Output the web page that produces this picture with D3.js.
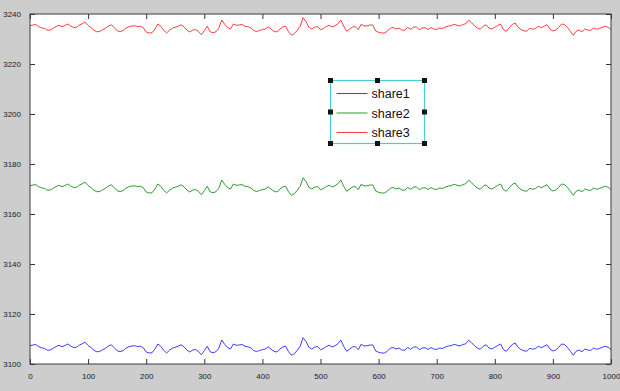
<!DOCTYPE html>
<html>
<head>
<meta charset="utf-8">
<script src="https://cdn.jsdelivr.net/npm/d3@7"></script>
<style>
  body { margin: 0; background: #cdcdcd; }
  svg { display: block; }
  .tick text { font-family: "Liberation Sans", Arial, sans-serif; font-size: 8px; fill: #222; }
</style>
</head>
<body>
<div id="chart"></div>
<script>
const seriesNames = ["share1", "share2", "share3"]
const seriesColors = ["#3c3cff", "#2f9a2f", "#ff3c3c"]
const xTicks = [0, 100, 200, 300, 400, 500, 600, 700, 800, 900, 1000]
const yTicks = [3100, 3120, 3140, 3160, 3180, 3200, 3220, 3240]
// one reading every 5 steps, 0..1000
const sampleStep = 5

const share3 = [
  3235.3,3235.6,3235.8,3234.9,3234.5,3234.2,3233.5,3233.6,3234.3,3235.0,
  3235.5,3234.9,3235.4,3236.0,3235.2,3234.6,3234.7,3235.6,3236.1,3236.7,
  3235.4,3234.6,3233.5,3232.9,3233.0,3233.7,3234.3,3235.2,3235.7,3234.5,
  3233.3,3233.0,3233.3,3234.3,3234.9,3235.2,3235.3,3235.0,3235.1,3234.5,
  3232.8,3232.4,3232.5,3234.0,3236.0,3235.1,3233.5,3232.4,3233.5,3234.3,
  3234.7,3235.1,3235.7,3234.9,3233.6,3232.8,3233.6,3233.8,3233.0,3231.7,
  3233.3,3235.1,3232.9,3232.5,3232.9,3234.3,3237.6,3235.9,3234.6,3234.0,
  3236.0,3235.5,3235.6,3235.8,3235.1,3234.9,3234.5,3233.4,3233.0,3233.4,
  3233.8,3234.0,3234.9,3233.9,3233.1,3232.8,3234.0,3234.8,3235.1,3232.9,
  3231.5,3232.1,3233.5,3235.1,3238.5,3237.0,3234.7,3234.0,3234.7,3235.0,
  3233.7,3234.2,3235.0,3235.5,3234.8,3235.3,3236.1,3237.6,3235.0,3233.1,
  3233.9,3234.8,3235.0,3233.7,3235.9,3235.2,3235.3,3235.6,3235.6,3233.2,
  3232.7,3232.4,3232.4,3233.1,3234.3,3234.6,3234.0,3234.4,3233.6,3233.5,
  3234.6,3233.9,3234.7,3234.9,3233.7,3234.4,3234.5,3233.8,3234.6,3234.0,
  3233.8,3234.4,3234.2,3234.8,3235.2,3235.3,3235.9,3235.5,3235.2,3235.8,
  3236.1,3237.5,3236.5,3235.3,3234.4,3233.9,3235.1,3235.7,3234.4,3234.0,
  3234.7,3235.4,3236.0,3233.7,3233.1,3234.5,3235.8,3236.4,3234.7,3233.8,
  3233.3,3233.1,3234.3,3233.9,3234.2,3235.1,3234.5,3235.1,3235.7,3234.0,
  3233.2,3233.6,3234.7,3236.0,3235.8,3234.6,3233.1,3231.5,3233.1,3233.6,
  3232.9,3234.0,3233.6,3233.4,3234.4,3233.9,3234.2,3234.7,3235.1,3234.7,
  3233.8
]
const share2 = [
  3171.3,3171.6,3171.8,3170.9,3170.5,3170.2,3169.5,3169.6,3170.3,3171.0,
  3171.5,3170.9,3171.4,3172.0,3171.2,3170.6,3170.7,3171.6,3172.1,3172.7,
  3171.4,3170.6,3169.5,3168.9,3169.0,3169.7,3170.3,3171.2,3171.7,3170.5,
  3169.3,3169.0,3169.3,3170.3,3170.9,3171.2,3171.3,3171.0,3171.1,3170.5,
  3168.8,3168.4,3168.5,3170.0,3172.0,3171.1,3169.5,3168.4,3169.5,3170.3,
  3170.7,3171.1,3171.7,3170.9,3169.6,3168.8,3169.6,3169.8,3169.0,3167.7,
  3169.3,3171.1,3168.9,3168.5,3168.9,3170.3,3173.6,3171.9,3170.6,3170.0,
  3172.0,3171.5,3171.6,3171.8,3171.1,3170.9,3170.5,3169.4,3169.0,3169.4,
  3169.8,3170.0,3170.9,3169.9,3169.1,3168.8,3170.0,3170.8,3171.1,3168.9,
  3167.5,3168.1,3169.5,3171.1,3174.5,3173.0,3170.7,3170.0,3170.7,3171.0,
  3169.7,3170.2,3171.0,3171.5,3170.8,3171.3,3172.1,3173.6,3171.0,3169.1,
  3169.9,3170.8,3171.0,3169.7,3171.9,3171.2,3171.3,3171.6,3171.6,3169.2,
  3168.7,3168.4,3168.4,3169.1,3170.3,3170.6,3170.0,3170.4,3169.6,3169.5,
  3170.6,3169.9,3170.7,3170.9,3169.7,3170.4,3170.5,3169.8,3170.6,3170.0,
  3169.8,3170.4,3170.2,3170.8,3171.2,3171.3,3171.9,3171.5,3171.2,3171.8,
  3172.1,3173.5,3172.5,3171.3,3170.4,3169.9,3171.1,3171.7,3170.4,3170.0,
  3170.7,3171.4,3172.0,3169.7,3169.1,3170.5,3171.8,3172.4,3170.7,3169.8,
  3169.3,3169.1,3170.3,3169.9,3170.2,3171.1,3170.5,3171.1,3171.7,3170.0,
  3169.2,3169.6,3170.7,3172.0,3171.8,3170.6,3169.1,3167.5,3169.1,3169.6,
  3168.9,3170.0,3169.6,3169.4,3170.4,3169.9,3170.2,3170.7,3171.1,3170.7,
  3169.8
]
const share1 = [
  3107.3,3107.6,3107.8,3106.9,3106.5,3106.2,3105.5,3105.6,3106.3,3107.0,
  3107.5,3106.9,3107.4,3108.0,3107.2,3106.6,3106.7,3107.6,3108.1,3108.7,
  3107.4,3106.6,3105.5,3104.9,3105.0,3105.7,3106.3,3107.2,3107.7,3106.5,
  3105.3,3105.0,3105.3,3106.3,3106.9,3107.2,3107.3,3107.0,3107.1,3106.5,
  3104.8,3104.4,3104.5,3106.0,3108.0,3107.1,3105.5,3104.4,3105.5,3106.3,
  3106.7,3107.1,3107.7,3106.9,3105.6,3104.8,3105.6,3105.8,3105.0,3103.7,
  3105.3,3107.1,3104.9,3104.5,3104.9,3106.3,3109.6,3107.9,3106.6,3106.0,
  3108.0,3107.5,3107.6,3107.8,3107.1,3106.9,3106.5,3105.4,3105.0,3105.4,
  3105.8,3106.0,3106.9,3105.9,3105.1,3104.8,3106.0,3106.8,3107.1,3104.9,
  3103.5,3104.1,3105.5,3107.1,3110.5,3109.0,3106.7,3106.0,3106.7,3107.0,
  3105.7,3106.2,3107.0,3107.5,3106.8,3107.3,3108.1,3109.6,3107.0,3105.1,
  3105.9,3106.8,3107.0,3105.7,3107.9,3107.2,3107.3,3107.6,3107.6,3105.2,
  3104.7,3104.4,3104.4,3105.1,3106.3,3106.6,3106.0,3106.4,3105.6,3105.5,
  3106.6,3105.9,3106.7,3106.9,3105.7,3106.4,3106.5,3105.8,3106.6,3106.0,
  3105.8,3106.4,3106.2,3106.8,3107.2,3107.3,3107.9,3107.5,3107.2,3107.8,
  3108.1,3109.5,3108.5,3107.3,3106.4,3105.9,3107.1,3107.7,3106.4,3106.0,
  3106.7,3107.4,3108.0,3105.7,3105.1,3106.5,3107.8,3108.4,3106.7,3105.8,
  3105.3,3105.1,3106.3,3105.9,3106.2,3107.1,3106.5,3107.1,3107.7,3106.0,
  3105.2,3105.6,3106.7,3108.0,3107.8,3106.6,3105.1,3103.5,3105.1,3105.6,
  3104.9,3106.0,3105.6,3105.4,3106.4,3105.9,3106.2,3106.7,3107.1,3106.7,
  3105.8
]

const W = 620, H = 391
const margin = { top: 14, right: 9, bottom: 27, left: 30 },
    width = W - margin.left - margin.right,
    height = H - margin.top - margin.bottom;

const svg = d3.select("#chart").append("svg")
    .attr("width", W).attr("height", H)

svg.append("rect").attr("width", W).attr("height", H).attr("fill", "#cdcdcd")

const g = svg.append("g").attr("transform", `translate(${margin.left},${margin.top})`)

g.append("rect").attr("width", width).attr("height", height).attr("fill", "#fff")

const x = d3.scaleLinear().domain([0, 1000]).range([0, width])
const y = d3.scaleLinear().domain([3100, 3240]).range([height, 0])

const line = d3.line()
    .x((d, i) => x(i * sampleStep))
    .y(d => y(d))

const allSeries = [share1, share2, share3]
g.selectAll("path.series").data(allSeries).join("path")
    .attr("class", "series")
    .attr("d", line)
    .attr("fill", "none")
    .attr("stroke", (d, i) => seriesColors[i])
    .attr("stroke-width", 1)

// axes: MATLAB-style inward ticks on all four sides
function styleAxis(sel) {
    sel.select(".domain").remove()
    sel.selectAll(".tick line").attr("stroke", "#333")
}
const tl = 5
g.append("g").attr("transform", `translate(0,${height})`)
    .call(d3.axisBottom(x).tickValues(xTicks).tickSizeInner(-tl).tickPadding(tl + 4).tickFormat(d3.format("d")))
    .call(styleAxis)
g.append("g")
    .call(d3.axisTop(x).tickValues(xTicks).tickSizeInner(-tl).tickFormat(""))
    .call(styleAxis)
g.append("g")
    .call(d3.axisLeft(y).tickValues(yTicks).tickSizeInner(-tl).tickPadding(tl + 4).tickFormat(d3.format("d")))
    .call(styleAxis)
g.append("g").attr("transform", `translate(${width},0)`)
    .call(d3.axisRight(y).tickValues(yTicks).tickSizeInner(-tl).tickFormat(""))
    .call(styleAxis)

g.append("rect").attr("width", width).attr("height", height)
    .attr("fill", "none").attr("stroke", "#3a3a3a").attr("stroke-width", 1)

// legend (selected, with handles)
const lg = svg.append("g").attr("transform", "translate(330.5,80.5)")
const lw = 94, lh = 63
lg.append("rect").attr("width", lw).attr("height", lh)
    .attr("fill", "#fff").attr("stroke", "#45cfcf").attr("stroke-width", 1.2)
seriesNames.forEach((name, i) => {
    const yy = 13 + i * 19.5
    lg.append("line").attr("x1", 6).attr("x2", 37).attr("y1", yy).attr("y2", yy)
        .attr("stroke", seriesColors[i]).attr("stroke-width", 1)
    lg.append("text").attr("x", 41).attr("y", yy + 4.5).text(name)
        .attr("font-family", "Liberation Sans, Arial, sans-serif")
        .attr("font-size", 12.5).attr("fill", "#111")
})
const handles = []
;[0, lw / 2, lw].forEach(hx => [0, lh / 2, lh].forEach(hy => {
    if (!(hx === lw / 2 && hy === lh / 2)) handles.push([hx, hy])
}))
lg.selectAll("rect.h").data(handles).join("rect").attr("class", "h")
    .attr("x", d => d[0] - 2.5).attr("y", d => d[1] - 2.5)
    .attr("width", 5).attr("height", 5).attr("fill", "#111")
</script>
</body>
</html>
